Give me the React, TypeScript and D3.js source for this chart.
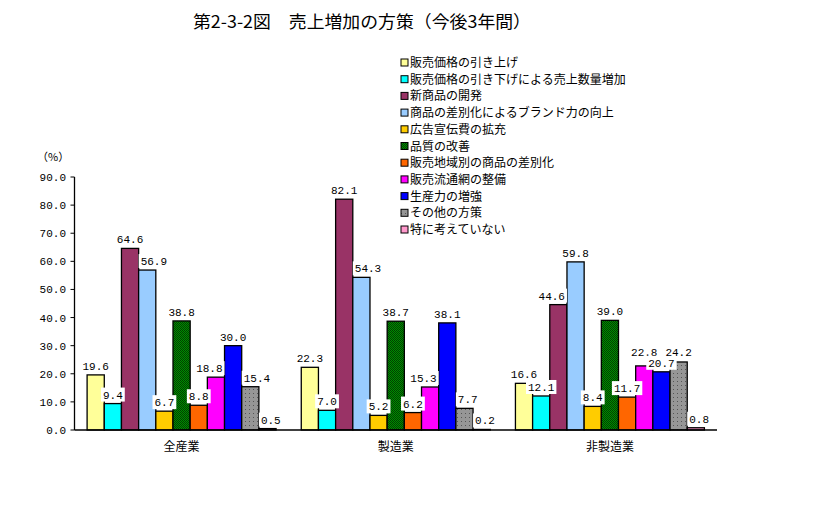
import React from "react";
import * as d3 from "d3";

const title = "第2-3-2図　売上増加の方策（今後3年間）";
const categories = ["全産業", "製造業", "非製造業"];
const seriesNames = [
  "販売価格の引き上げ",
  "販売価格の引き下げによる売上数量増加",
  "新商品の開発",
  "商品の差別化によるブランド力の向上",
  "広告宣伝費の拡充",
  "品質の改善",
  "販売地域別の商品の差別化",
  "販売流通網の整備",
  "生産力の増強",
  "その他の方策",
  "特に考えていない",
];
const values_all = [19.6, 9.4, 64.6, 56.9, 6.7, 38.8, 8.8, 18.8, 30.0, 15.4, 0.5];
const values_mfg = [22.3, 7.0, 82.1, 54.3, 5.2, 38.7, 6.2, 15.3, 38.1, 7.7, 0.2];
const values_nonmfg = [16.6, 12.1, 44.6, 59.8, 8.4, 39.0, 11.7, 22.8, 20.7, 24.2, 0.8];
const yTicks = [0, 10, 20, 30, 40, 50, 60, 70, 80, 90];
const colors = [
  "#FFFF99",
  "#00FFFF",
  "#993366",
  "#99CCFF",
  "#FFCC00",
  "url(#checker)",
  "#FF6600",
  "#FF00FF",
  "#0000FF",
  "url(#dots)",
  "#FF99CC",
];

const W = 832;
const H = 525;
const axisLeft = 74.5;
const axisRight = 717;
const y0 = 430;
const yTop = 177;
const CHAR_W = 6.6;
const TEXT_H = 8;
const MARGIN = 2;

type Label = { x: number; y: number; t: string; w: number };

export default function App() {
  const groups = [values_all, values_mfg, values_nonmfg];
  const x0 = d3.scaleBand<string>().domain(categories).range([axisLeft, axisRight]);
  const gw = x0.bandwidth();
  const x1 = d3
    .scaleBand<string>()
    .domain(seriesNames)
    .range([12.6, gw - 12.6]);
  const y = d3.scaleLinear().domain([0, 90]).range([y0, yTop]);
  const bw = x1.bandwidth();
  const mono = "'Liberation Mono', 'DejaVu Sans Mono', monospace";
  const jp = "'Noto Sans CJK JP', sans-serif";

  const labels: Label[] = [];
  groups.forEach((vals, gi) => {
    const gx = x0(categories[gi]) ?? 0;
    const bars = vals.map((v, si) => {
      const x = gx + (x1(seriesNames[si]) ?? 0);
      return { x, x2: x + bw, top: y(v) };
    });
    const placed: Label[] = [];
    vals.forEach((v, si) => {
      const t = v.toFixed(1);
      const w = t.length * CHAR_W;
      let cx = bars[si].x + bw / 2;
      let base = y(v) - 5;
      // avoid taller neighbour bars
      const L = bars[si - 1];
      const R = bars[si + 1];
      const leftHit = L && L.top < base && cx - w / 2 - MARGIN < L.x2;
      const rightHit = R && R.top < base && cx + w / 2 + MARGIN > R.x;
      if (leftHit && !rightHit) cx = L.x2 + MARGIN + w / 2;
      else if (rightHit && !leftHit) cx = R.x - MARGIN - w / 2;
      const lab: Label = { x: cx, y: base, t, w };
      // avoid previously placed labels: lift the higher one
      placed.forEach((p) => {
        const hOver = Math.abs(p.x - lab.x) < (p.w + lab.w) / 2 + MARGIN;
        const vOver = Math.abs(p.y - lab.y) < TEXT_H + MARGIN;
        if (hOver && vOver) {
          if (p.y <= lab.y) p.y = lab.y - TEXT_H - MARGIN - 1;
          else lab.y = p.y - TEXT_H - MARGIN - 1;
        }
      });
      placed.push(lab);
    });
    labels.push(...placed);
  });

  return (
    <svg width={W} height={H} style={{ position: "absolute", left: 0, top: 0, background: "#fff" }}>
      <defs>
        <pattern id="checker" width="2" height="2" patternUnits="userSpaceOnUse">
          <rect width="2" height="2" fill="#008C00" />
          <rect width="1" height="1" fill="#004000" />
          <rect x="1" y="1" width="1" height="1" fill="#004000" />
        </pattern>
        <pattern id="dots" width="4" height="4" patternUnits="userSpaceOnUse">
          <rect width="4" height="4" fill="#969696" />
          <rect x="1" y="1" width="1" height="1" fill="#555" />
        </pattern>
      </defs>
      <rect width={W} height={H} fill="#fff" />
      <text x={193} y={28} fontFamily={jp} fontSize={17} textLength={338} lengthAdjust="spacingAndGlyphs" fill="#000">
        {title}
      </text>
      <text x={37} y={161} fontFamily={jp} fontSize={11} fill="#000">
        （%）
      </text>
      {yTicks.map((t) => (
        <g key={t}>
          <line x1={axisLeft - 4} x2={axisLeft} y1={y(t)} y2={y(t)} stroke="#000" strokeWidth={1} />
          <text x={66} y={y(t) + 4} textAnchor="end" fontFamily={mono} fontSize={11} fill="#000">
            {t.toFixed(1)}
          </text>
        </g>
      ))}
      {groups.map((vals, gi) =>
        vals.map((v, si) => {
          const x = (x0(categories[gi]) ?? 0) + (x1(seriesNames[si]) ?? 0);
          return (
            <rect
              key={gi + "-" + si}
              x={x}
              y={y(v)}
              width={bw}
              height={y0 - y(v)}
              fill={colors[si]}
              stroke="#000"
              strokeWidth={1.3}
            />
          );
        })
      )}
      <line x1={axisLeft} x2={axisLeft} y1={yTop} y2={y0} stroke="#000" strokeWidth={1.3} />
      <line x1={axisLeft} x2={axisRight} y1={y0} y2={y0} stroke="#000" strokeWidth={1.3} />
      {labels.map((l, i) => (
        <g key={i}>
          <rect x={l.x - l.w / 2 - 2} y={l.y - 11} width={l.w + 4} height={14} fill="#fff" />
          <text x={l.x} y={l.y} textAnchor="middle" fontFamily={mono} fontSize={11} fill="#000">
            {l.t}
          </text>
        </g>
      ))}
      {categories.map((c) => (
        <text
          key={c}
          x={(x0(c) ?? 0) + gw / 2}
          y={451}
          textAnchor="middle"
          fontFamily={jp}
          fontSize={12}
          fill="#000"
        >
          {c}
        </text>
      ))}
      {seriesNames.map((s, i) => {
        const ly = 62.5 + i * 16.7;
        return (
          <g key={s}>
            <rect x={401} y={ly - 3.5} width={7} height={7} fill={colors[i]} stroke="#000" strokeWidth={1} />
            <text x={410} y={ly + 4.5} fontFamily={jp} fontSize={12} fill="#000">
              {s}
            </text>
          </g>
        );
      })}
    </svg>
  );
}
